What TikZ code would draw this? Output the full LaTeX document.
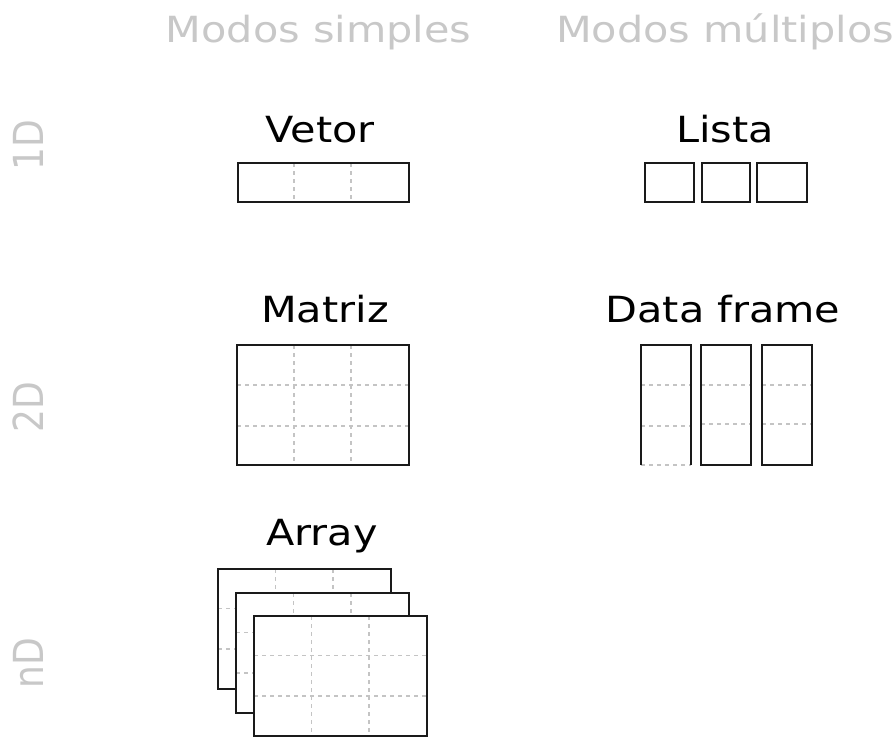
\documentclass[tikz,border=0pt]{standalone}
\usepackage{fontspec}
\setmainfont{DejaVu Sans}
\definecolor{hdr}{HTML}{C8C8C8}
\definecolor{ink}{HTML}{1A1A1A}
\definecolor{guide}{HTML}{C4C4C4}
\tikzset{
  txt/.style={inner sep=0pt, anchor=base, xscale=1.15, font=\fontsize{36}{42}\selectfont},
  hdrtext/.style={txt, text=hdr},
  rowtext/.style={inner sep=0pt, text=hdr, xscale=1.15, rotate=90, anchor=base,
                  font=\fontsize{36}{42}\selectfont},
  titletext/.style={txt, text=black},
  cell/.style={draw=ink, line width=2pt},
  guideline/.style={draw=guide, line width=1.4pt, dash pattern=on 4pt off 4pt},
  sheet/.style={cell, fill=white}
}
\begin{document}
\begin{tikzpicture}[x=1pt, y=-1pt]
  \useasboundingbox (0,0) rectangle (896,736);

  % column and row headers
  \node[hdrtext] (simples) at (318.5,42) {Modos simples};
  \node[hdrtext] (multiplos) at (725,42) {Modos múltiplos};
  \node[rowtext] (r1) at (43,145) {1D};
  \node[rowtext] (r2) at (43,407) {2D};
  \node[rowtext] (r3) at (43,663) {nD};

  % titles
  \node[titletext] (vetor) at (320,142) {Vetor};
  \node[titletext] (lista) at (725,142) {Lista};
  \node[titletext] (matriz) at (325,322) {Matriz};
  \node[titletext] (df) at (723,322) {Data frame};
  \node[titletext] (array) at (322,545) {Array};

  % vector: one row of three cells
  \foreach \x in {294,351} \draw[guideline] (\x,163) -- (\x,202);
  \draw[cell] (237.5,163) rectangle (409,202);

  % list: three separate cells
  \foreach \a/\b in {645/694, 702/750, 757/807}
    \draw[cell] (\a,163) rectangle (\b,202);

  % matrix: 3 x 3 grid
  \foreach \x in {294,351} \draw[guideline] (\x,345) -- (\x,465);
  \foreach \y in {385,426} \draw[guideline] (237,\y) -- (409,\y);
  \draw[cell] (237,345) rectangle (409,465);

  % data frame: three columns
  \foreach \y in {385,426} \draw[guideline] (641,\y) -- (691,\y);
  \draw[guideline] (641,465) -- (691,465);
  \draw[cell] (641,465) -- (641,345) -- (691,345) -- (691,465);
  \foreach \a/\b in {701/751, 762/812} {
    \foreach \y in {385,424} \draw[guideline] (\a,\y) -- (\b,\y);
    \draw[cell] (\a,345) rectangle (\b,465);
  }

  % array: three stacked sheets, back to front
  \foreach \dx/\dy in {218/569, 236/593, 254/616} {
    \fill[white] (\dx,\dy) rectangle ++(173,120);
    \foreach \i in {57.5,115} \draw[guideline] (\dx+\i,\dy) -- (\dx+\i,\dy+120);
    \foreach \j in {39.5,80} \draw[guideline] (\dx,\dy+\j) -- (\dx+173,\dy+\j);
    \draw[cell] (\dx,\dy) rectangle ++(173,120);
  }
\end{tikzpicture}
\end{document}
